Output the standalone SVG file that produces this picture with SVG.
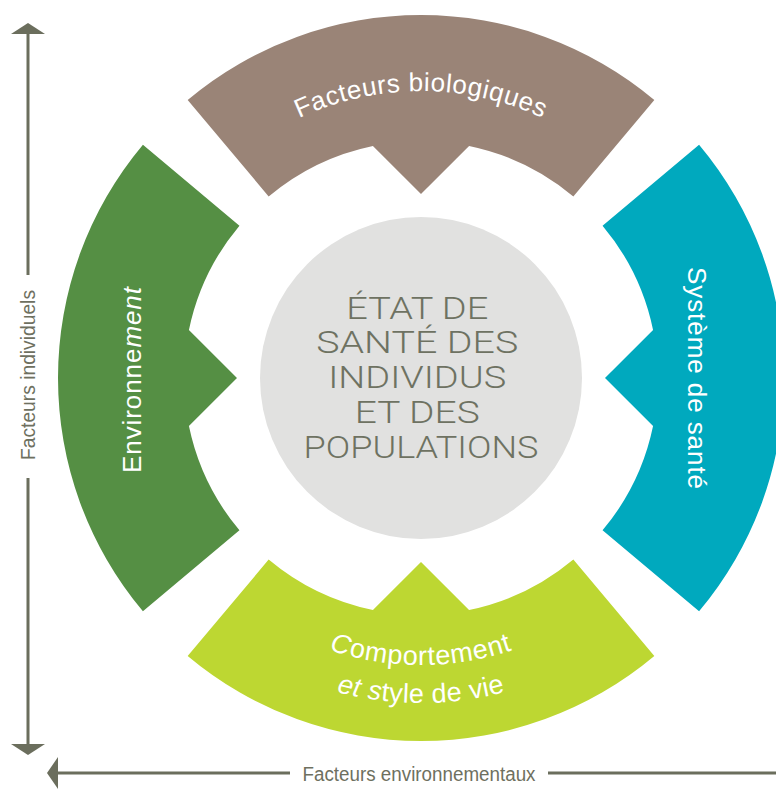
<svg xmlns="http://www.w3.org/2000/svg" xmlns:xlink="http://www.w3.org/1999/xlink" width="776" height="790" viewBox="0 0 776 790">
  <style>
    .lbl { font-family: "Liberation Sans", Arial, sans-serif; fill: #ffffff; }
    .axis-txt { font-family: "Liberation Sans", Arial, sans-serif; font-size: 20px; fill: #6e7060; }
    .core-txt { font-family: Roboto, "Liberation Sans", Arial, sans-serif; font-weight: 300; font-size: 31px; fill: #6e7262; }
    .axis { stroke: #6b6e5d; stroke-width: 3; fill: none; }
    .head { fill: #6b6e5d; }
    .it { font-style: italic; }
  </style>
  <defs>
    <!-- ring sector pointing up, centred on the origin, with an inward arrow point -->
    <path id="sector" d="M-233.33,-278.07 A363,363 0 0 1 233.33,-278.07 L152.34,-181.55 A237,237 0 0 0 48.07,-232.07 L0,-184 L-48.07,-232.07 A237,237 0 0 0 -152.34,-181.55 Z"/>
    <!-- text baselines around the centre (421,378) -->
    <path id="arcTop" d="M134,378 A287,287 0 0 1 708,378"/>
    <path id="arcBot1" d="M134,378 A287,287 0 0 0 708,378"/>
    <path id="arcBot2" d="M96,378 A325,325 0 0 0 746,378"/>
  </defs>

  <!-- axes -->
  <g id="axes">
    <line class="axis" x1="28" y1="32" x2="28" y2="275"/>
    <line class="axis" x1="28" y1="478" x2="28" y2="746"/>
    <polygon class="head" points="28,23 45,34 11,34"/>
    <polygon class="head" points="11,744 45,744 28,755"/>
    <text class="axis-txt" transform="translate(35,375) rotate(-90)" text-anchor="middle" textLength="170" lengthAdjust="spacingAndGlyphs">Facteurs individuels</text>
    <line class="axis" x1="56" y1="773" x2="290" y2="773"/>
    <line class="axis" x1="548" y1="773" x2="776" y2="773"/>
    <polygon class="head" points="47,773 58,757 58,789"/>
    <text class="axis-txt" x="419" y="781" text-anchor="middle" textLength="233" lengthAdjust="spacingAndGlyphs">Facteurs environnementaux</text>
  </g>

  <!-- centre -->
  <g id="etat-sante">
    <circle cx="421" cy="378" r="161" fill="#e1e1e0"/>
    <text class="core-txt" text-anchor="middle">
      <tspan x="421" y="319" textLength="142" lengthAdjust="spacingAndGlyphs">ÉTAT DE</tspan>
      <tspan x="421" y="353" textLength="202" lengthAdjust="spacingAndGlyphs">SANTÉ DES</tspan>
      <tspan x="421" y="388" textLength="178" lengthAdjust="spacingAndGlyphs">INDIVIDUS</tspan>
      <tspan x="421" y="423" textLength="125" lengthAdjust="spacingAndGlyphs">ET DES</tspan>
      <tspan x="421" y="458" textLength="235" lengthAdjust="spacingAndGlyphs">POPULATIONS</tspan>
    </text>
  </g>

  <!-- four determinants -->
  <g id="facteurs-biologiques">
    <use xlink:href="#sector" transform="translate(421,378)" fill="#9a8477"/>
    <text class="lbl" font-size="26" letter-spacing="0.6"><textPath xlink:href="#arcTop" startOffset="50%" text-anchor="middle">Facteurs biologiques</textPath></text>
  </g>

  <g id="systeme-sante">
    <use xlink:href="#sector" transform="translate(421,378) rotate(90)" fill="#00a9be"/>
    <text class="lbl" font-size="26" transform="translate(688,378) rotate(90)" text-anchor="middle" textLength="222" lengthAdjust="spacing">Système de santé</text>
  </g>

  <g id="comportement">
    <use xlink:href="#sector" transform="translate(421,378) rotate(180)" fill="#bdd732"/>
    <text class="lbl" font-size="27" letter-spacing="0.7"><textPath xlink:href="#arcBot1" startOffset="50%" text-anchor="middle"><tspan class="it">C</tspan>omportement</textPath></text>
    <text class="lbl" font-size="27" letter-spacing="0.4"><textPath xlink:href="#arcBot2" startOffset="50%" text-anchor="middle"><tspan class="it">et s</tspan>tyle de vie</textPath></text>
  </g>

  <g id="environnement">
    <use xlink:href="#sector" transform="translate(421,378) rotate(270)" fill="#558f44"/>
    <text class="lbl" font-size="26" transform="translate(141,380) rotate(-90)" text-anchor="middle" textLength="186" lengthAdjust="spacing">Environne<tspan class="it">ment</tspan></text>
  </g>
</svg>
